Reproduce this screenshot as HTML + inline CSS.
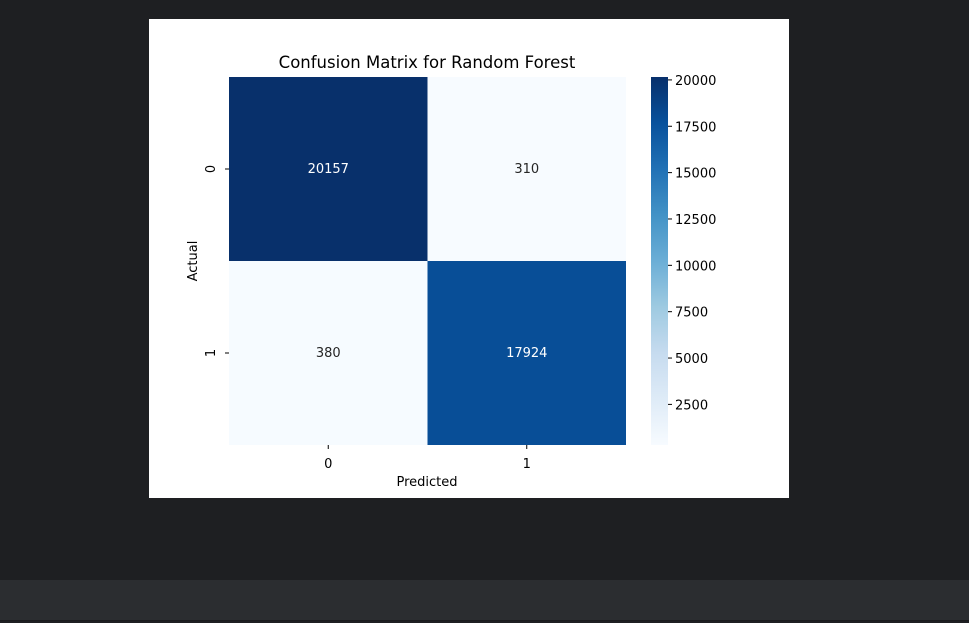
<!DOCTYPE html>
<html><head><meta charset="utf-8">
<style>
body{margin:0;width:969px;height:623px;background:#1e1f22;position:relative;overflow:hidden;font-family:"DejaVu Sans","Liberation Sans",sans-serif;}
#panel{position:absolute;left:149px;top:19px;width:640px;height:479px;background:#fff;}
#bar{position:absolute;left:0;top:580px;width:969px;height:40px;background:#2b2d30;border-bottom:1px solid #1a1b1d;}
svg text{font-family:"DejaVu Sans","Liberation Sans",sans-serif;}
</style></head><body>
<div id="panel"></div>
<div id="bar"></div>
<svg id="chart" width="969" height="623" style="position:absolute;left:0;top:0">
<defs>
<linearGradient id="blues" x1="0" y1="1" x2="0" y2="0">
<stop offset="0" stop-color="#f7fbff"/><stop offset="0.125" stop-color="#deebf7"/><stop offset="0.25" stop-color="#c6dbef"/><stop offset="0.375" stop-color="#9ecae1"/><stop offset="0.5" stop-color="#6baed6"/><stop offset="0.625" stop-color="#4292c6"/><stop offset="0.75" stop-color="#2171b5"/><stop offset="0.875" stop-color="#08519c"/><stop offset="1" stop-color="#08306b"/>
</linearGradient>
</defs>
<g id="cells"></g>
<g id="cbar"></g>
<text x="427" y="68" font-size="16.5" text-anchor="middle">Confusion Matrix for Random Forest</text>
<text x="427" y="486" font-size="13" text-anchor="middle">Predicted</text>
<text x="197" y="261" font-size="13" text-anchor="middle" transform="rotate(-90 197 261)">Actual</text>
</svg>
<script>
const labels=['0','1'];
const matrix=[[20157,310],[380,17924]];
const cbTicks=[2500,5000,7500,10000,12500,15000,17500,20000];
const NS='http://www.w3.org/2000/svg';
const X0=229,Y0=77,W=397,H=368;
const vmin=310,vmax=20157;
const stops=['#f7fbff','#deebf7','#c6dbef','#9ecae1','#6baed6','#4292c6','#2171b5','#08519c','#08306b'];
function hex(h){return [1,3,5].map(i=>parseInt(h.substr(i,2),16));}
function color(v){let t=(v-vmin)/(vmax-vmin);t=Math.max(0,Math.min(1,t))*8;const i=Math.min(7,Math.floor(t)),f=t-i;const a=hex(stops[i]),b=hex(stops[i+1]);return 'rgb('+a.map((c,k)=>Math.round(c+(b[k]-c)*f)).join(',')+')';}
function mk(tag,at,p){const e=document.createElementNS(NS,tag);for(const k in at)e.setAttribute(k,at[k]);p.appendChild(e);return e;}
const svg=document.getElementById('chart'),cells=document.getElementById('cells'),cb=document.getElementById('cbar');
const n=labels.length,cw=W/n,ch=H/n;
matrix.forEach((row,r)=>row.forEach((v,c)=>{
 const rc=mk('rect',{x:X0+c*cw,y:Y0+r*ch,width:cw,height:ch,fill:color(v)},cells);
 
 
 const t=mk('text',{x:X0+(c+0.5)*cw,y:Y0+(r+0.5)*ch+4,'font-size':13,'text-anchor':'middle',fill:(v-vmin)/(vmax-vmin)>0.5?'#fff':'#262626'},cells);
 t.textContent=v;
 
 
}));
labels.forEach((l,i)=>{
 const tx=X0+(i+0.5)*cw;
 mk('line',{x1:tx,x2:tx,y1:Y0+H,y2:Y0+H+4,stroke:'#000'},svg);
 const t=mk('text',{x:tx,y:Y0+H+23,'font-size':13,'text-anchor':'middle'},svg);t.textContent=l;
 
 
 const ty=Y0+(i+0.5)*ch;
 mk('line',{x1:X0-4,x2:X0,y1:ty,y2:ty,stroke:'#000'},svg);
 const u=mk('text',{x:X0-14,y:ty,'font-size':13,'text-anchor':'middle',transform:'rotate(-90 '+(X0-14)+' '+ty+')'},svg);u.textContent=l;
 
 
});
const CX=651,CW=17;
const cr=mk('rect',{x:CX,y:Y0,width:CW,height:H,fill:'url(#blues)'},cb);


cbTicks.forEach(v=>{
 const y=Y0+H-(v-vmin)/(vmax-vmin)*H;
 mk('line',{x1:CX+CW,x2:CX+CW+4,y1:y,y2:y,stroke:'#000'},cb);
 const t=mk('text',{x:CX+CW+7,y:y+5,'font-size':13},cb);t.textContent=v;
 
 
});
</script>
</body></html>
